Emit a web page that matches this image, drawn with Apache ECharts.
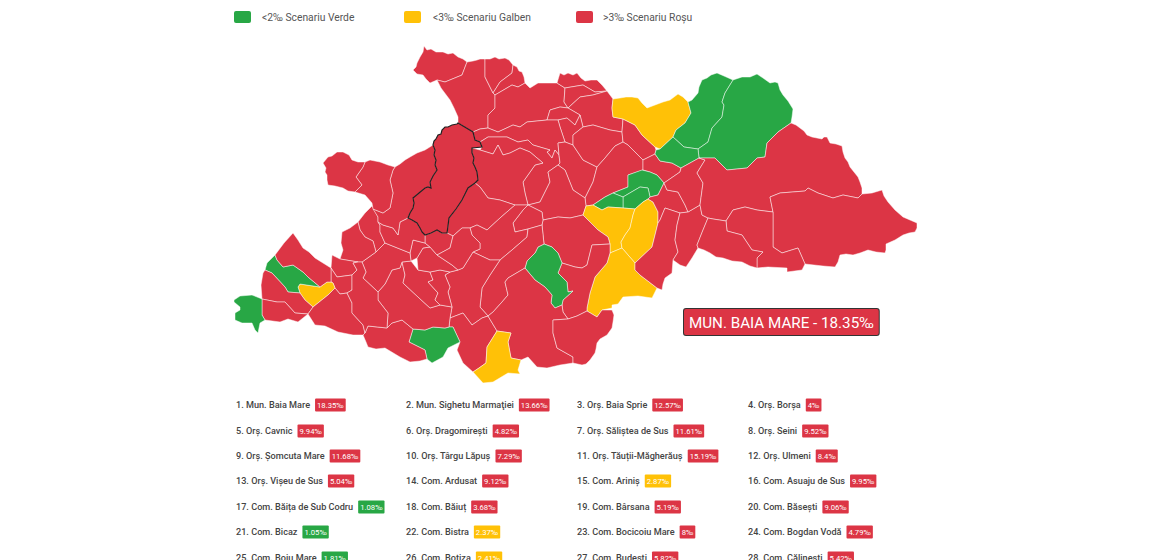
<!DOCTYPE html>
<html>
<head>
<meta charset="utf-8">
<title>Maramureș</title>
<script src="https://cdn.jsdelivr.net/npm/echarts@6/dist/echarts.min.js"></script>
<style>
  html, body { margin: 0; padding: 0; background: #fff; overflow: hidden; }
  #chart { width: 1160px; height: 560px; }
</style>
</head>
<body>
<div id="chart"></div>
<script>
'use strict';

// legend
const scenarioLabels = ['<2‰ Scenariu Verde', '<3‰ Scenariu Galben', '>3‰ Scenariu Roșu'];
const scenarioColors = ['#28a745', '#ffc107', '#dc3545'];

// ranked list under the map
const listNames = [
  'Mun. Baia Mare', 'Mun. Sighetu Marmaţiei', 'Orș. Baia Sprie', 'Orș. Borșa',
  'Orș. Cavnic', 'Orș. Dragomirești', 'Orș. Săliștea de Sus', 'Orș. Seini',
  'Orș. Șomcuta Mare', 'Orș. Târgu Lăpuș', 'Orș. Tăuții-Măgherăuș', 'Orș. Ulmeni',
  'Orș. Vișeu de Sus', 'Com. Ardusat', 'Com. Ariniș', 'Com. Asuaju de Sus',
  'Com. Băița de Sub Codru', 'Com. Băiuț', 'Com. Bârsana', 'Com. Băsești',
  'Com. Bicaz', 'Com. Bistra', 'Com. Bocicoiu Mare', 'Com. Bogdan Vodă',
  'Com. Boiu Mare', 'Com. Botiza', 'Com. Budești', 'Com. Călinești'
];
const listValues = [
  18.35, 13.66, 12.57, 4,
  9.94, 4.82, 11.61, 9.52,
  11.68, 7.29, 15.19, 8.4,
  5.04, 9.12, 2.87, 9.95,
  1.08, 3.68, 5.19, 9.06,
  1.05, 2.37, 8, 4.79,
  1.81, 2.41, 5.82, 5.42
];

// map units, black outlined one (the hovered unit) last so it paints on top
const regionNames = [
  't4', 't3', 't1', 't2', 't5', 'n1', 'q1', 'q2', 'q3', 't9',
  't6', 't7', 't8', 'w16', 'p2', 'p1', 'p4', 'p5', 'p7', 'rz',
  'yTop', 'g1', 'g2', 'g3', 'gTop', 'gLow', 'gLeft', 'yA', 'yB', 'yC',
  'rd', 'rc', 'rb', 'ra', 'e1', 'e2', 'e3', 'e4', 'rt', 'rg',
  'gc', 'r2', 'r1', 'r3', 'r4', 'r5', 'r6', 'rs', 'ySouth', 'gSouth',
  'wh', 'w9', 'w10', 'w11', 'w12', 'w13', 'w14', 'w15', 'w7', 'w6',
  'w5', 'w1', 'w2', 'w3', 'w4', 'we', 'wf', 'yWest', 'gStrip', 'wa',
  'wb', 'wc', 'gWest', 'wd', 'wg', 'baiaMare'
];
// only the colour band can be read for most units, so these are band estimates
const regionValues = [
  6, 6, 6, 6, 6, 6, 6, 6, 6, 6,
  6, 6, 6, 6, 6, 6, 6, 6, 6, 6,
  2.5, 1.5, 1.5, 1.5, 1.5, 1.5, 1.5, 2.5, 2.5, 2.5,
  6, 6, 6, 6, 6, 6, 6, 6, 6, 6,
  1.5, 6, 6, 6, 6, 6, 6, 6, 2.5, 1.5,
  6, 6, 6, 6, 6, 6, 6, 6, 6, 6,
  6, 6, 6, 6, 6, 6, 6, 2.5, 1.5, 6,
  6, 6, 1.5, 6, 6, 18.35
];

// traced unit outlines, in page pixels
const outlines = {
  t4: '424,46 427,50 431,49 436,52 443,52 448,54 453,53 458,57 463,59 467,62 462,75 445,82 437,80 430,83 426,79 423,75 417,74 413,70 416,67 417,63 420,57 423,52',
  t3: '437,80 445,82 462,75 467,62 473,61 477,60 480,59 485,59 485,77 493,93 495,95 495,108 488,115 488,128 480,129 473,132 458,123 458,117 454,108 450,100 441,88',
  t1: '485,59 490,59 495,57 499,59 505,58 509,60 513,65 512,73 500,82 493,93 485,77',
  t2: '513,65 517,67 519,71 522,72 524,77 525,83 518,87 512,85 495,95 493,93 500,82 512,73',
  t5: '495,95 512,85 518,87 525,83 530,88 538,83 557,83 565,88 564,102 568,108 560,107 550,110 547,120 527,122 520,127 513,125 498,132 488,128 488,115 495,108',
  n1: '557,83 560,73 564,75 568,73 573,75 577,73 581,78 585,81 591,80 597,80 602,85 607,91 595,92 583,85 565,88',
  q1: '565,88 583,85 595,92 607,91 593,95 580,97 568,108 564,102',
  q2: '568,108 580,97 593,95 607,91 613,99 612,108 613,117 623,119 622,132 610,130 593,125 583,127 580,115',
  q3: '547,120 550,110 560,107 568,108 580,115 575,125 567,118 558,120',
  t9: '558,120 567,118 575,125 580,115 583,127 573,135 573,145 565,142 560,127',
  t6: '473,132 480,129 488,128 498,132 513,125 520,127 527,122 547,120 558,120 560,127 565,142 558,143 559,155 555,150 552,158 547,152 550,150 533,145 528,140 518,142 507,137 488,137 480,142 475,140',
  t7: '480,142 488,137 507,137 518,142 528,140 533,145 550,150 547,152 552,158 555,150 559,155 560,163 558,165 548,172 550,182 540,202 528,205 525,193 523,182 535,165 543,163 530,152 520,148 510,153 503,155 498,145 493,154 480,150 482,147',
  t8: '472,148 480,150 493,154 498,145 503,155 510,153 520,148 530,152 543,163 535,165 523,182 525,193 528,205 515,205 500,200 488,198 480,187 475,183 478,180 477,172 475,167 473,163 474,158 472,153',
  w16: '475,183 480,187 488,198 500,200 515,205 500,218 487,230 477,225 470,228 462,228 453,236 447,233 448,226 449,218 456,209 462,200 465,194 468,188',
  p2: '560,163 559,155 558,143 565,142 573,145 583,160 597,167 593,182 585,198 573,190 565,170 558,165',
  p1: '573,145 573,135 583,127 593,125 610,130 622,132 623,142 615,146 605,158 597,167 583,160',
  p4: '623,119 635,125 642,135 655,147 656,150 655,154 643,160 628,145 623,142 622,132',
  p5: '643,160 643,170 628,175 628,187 613,193 605,197 593,205 586,206 585,198 593,182 597,167 605,158 615,146 623,142 628,145',
  p7: '643,160 655,154 660,161 672,163 681,168 680,172 664,183 657,175 650,172 643,170',
  rz: '558,165 565,170 573,190 585,198 586,206 583,215 570,218 558,217 543,220 542,212 528,205 540,202 550,182 548,172',
  yTop: '613,99 620,98 626,97 632,97 638,98 642,103 647,108 655,105 663,102 670,100 678,94 683,97 688,102 691,113 685,123 676,130 673,137 660,149 655,147 642,135 635,125 623,119 613,117 612,108',
  g1: '688,102 692,100 698,93 699,87 702,80 707,78 711,75 717,73 724,76 733,80 725,93 722,102 724,105 722,117 712,128 708,142 698,149 684,147 673,137 676,130 685,123 691,113',
  g2: '733,80 742,77 750,77 757,74 763,78 770,83 775,82 778,83 780,90 783,95 788,101 793,109 792,117 791,123 778,132 767,143 765,157 757,158 747,168 727,170 715,158 699,158 698,149 708,142 712,128 722,117 724,105 722,102 725,93',
  g3: '673,137 684,147 698,149 699,158 681,168 672,163 660,161 655,154 656,150 660,149',
  gTop: '613,193 628,187 628,175 642,170 650,172 657,175 664,183 658,195 650,197 648,188 640,187 623,197',
  gLow: '623,197 640,187 648,188 650,197 648,199 643,202 635,209 623,208',
  gLeft: '593,205 605,197 613,193 623,197 623,208 608,207 602,210',
  yA: '583,215 586,206 593,205 602,210 608,207 623,208 635,209 633,215 630,228 625,235 621,242 622,248 610,253 610,244 608,237 598,230 590,222',
  yB: '635,209 643,202 648,199 653,202 658,212 658,223 652,247 635,263 622,248 621,242 625,235 630,228 633,215',
  yC: '610,253 622,248 635,263 635,270 640,275 657,288 652,298 638,296 623,297 618,304 612,305 612,308 602,310 597,317 587,311 587,308 590,293 595,277 607,263',
  rd: '664,183 667,190 678,192 685,205 688,212 680,213 665,208 660,220 658,223 658,212 653,202 648,199 650,197 658,195',
  rc: '680,213 665,208 660,220 658,223 652,247 635,263 635,270 640,275 657,288 662,290 663,284 665,278 672,273 673,260 678,252 675,240 677,225',
  rb: '700,205 702,215 708,218 703,230 697,245 698,248 692,258 686,267 680,265 673,260 678,252 675,240 677,225 680,213 688,212',
  ra: '705,160 697,173 703,183 700,205 688,212 685,205 678,192 667,190 664,183 680,172 681,168 699,158',
  e1: '705,160 699,158 715,158 727,170 747,168 757,158 765,157 767,143 778,132 791,123 796,125 800,128 804,131 807,135 812,137 817,138 822,139 824,137 827,137 830,143 836,144 842,146 843,152 845,158 848,162 850,167 854,172 858,177 860,182 862,188 862,194 858,198 843,195 833,198 818,193 808,188 805,191 780,193 770,197 773,212 757,210 745,207 733,210 726,221 713,219 708,218 702,215 700,205 703,183 697,173',
  e2: '770,197 780,193 805,191 808,188 818,193 833,198 843,195 858,198 862,194 872,193 882,190 884,196 888,202 895,210 903,217 910,220 917,223 917,228 915,232 909,233 903,235 895,240 886,244 886,250 885,253 876,252 868,250 860,253 853,255 846,254 840,255 838,262 835,267 823,266 805,264 798,248 782,253 773,247 773,212',
  e3: '726,221 727,231 742,235 752,250 763,252 757,258 757,268 768,267 787,268 787,272 802,270 805,264 798,248 782,253 773,247 773,212 757,210 745,207 733,210',
  e4: '708,218 713,219 726,221 727,231 742,235 752,250 763,252 757,258 757,268 750,266 742,262 732,261 723,258 716,257 710,253 704,250 698,248 697,245 703,230',
  rt: '543,220 558,217 570,218 583,215 590,222 598,230 608,237 610,244 592,245 587,265 582,268 575,267 562,263 558,253 552,247 544,244 542,225',
  rg: '562,263 575,267 582,268 587,265 592,245 610,244 610,253 607,263 595,277 590,293 587,308 587,311 577,316 568,319 563,312 562,305 563,300 573,291 568,292 567,282 558,273',
  gc: '538,247 544,244 552,247 558,253 562,263 558,273 567,282 568,292 573,291 563,300 562,305 555,308 551,303 552,295 545,287 535,280 525,268 527,261 535,253',
  r2: '528,205 542,212 543,220 542,225 528,229 515,232 513,223 523,210',
  r1: '487,230 500,218 515,205 528,205 523,210 513,223 515,232 528,229 527,237 512,250 500,260 490,260 473,252 480,249 480,243 472,235 470,228 477,225',
  r3: '527,237 528,229 542,225 544,244 538,247 535,253 527,261 525,268 508,278 505,282 508,295 502,302 493,312 488,316 480,307 482,288 490,275 500,260 512,250',
  r4: '458,270 463,268 473,252 490,260 500,260 490,275 482,288 480,307 488,316 482,318 472,325 463,313 450,318 452,307 448,292 450,287 445,275 450,272',
  r5: '449,327 450,318 463,313 472,325 482,318 488,316 497,331 487,347 486,363 479,368 473,372 463,363 457,350 460,342 453,327',
  r6: '497,331 511,333 508,342 511,358 521,360 528,357 537,367 547,368 560,365 573,363 573,357 557,348 553,333 553,320 568,319 563,312 562,305 555,308 551,303 552,295 545,287 535,280 525,268 508,278 505,282 508,295 502,302 493,312 488,316',
  rs: '553,320 568,319 577,316 587,311 597,317 602,310 612,310 614,315 613,322 612,328 607,335 600,339 597,343 596,349 595,353 590,360 586,364 582,365 573,363 573,357 557,348 553,333',
  ySouth: '497,331 511,333 508,342 511,358 521,360 518,370 520,374 508,373 493,382 483,383 473,372 479,368 486,363 487,347',
  gSouth: '413,329 425,330 433,327 445,328 449,327 453,327 460,342 448,348 443,357 432,363 427,359 425,350 409,342',
  wh: '368,326 387,328 392,323 402,320 413,329 409,342 425,350 427,359 420,361 410,362 400,357 385,348 376,349 368,347 366,342 363,335 365,333',
  w9: '378,292 385,284 392,270 400,268 402,262 405,275 403,283 418,297 430,308 440,305 452,307 450,318 449,327 445,328 433,327 425,330 413,329 402,320 392,323 387,328 388,313 378,300',
  w10: '402,262 411,261 418,270 430,272 433,280 428,282 438,293 435,300 440,305 430,308 418,297 403,283 405,275',
  w11: '430,272 440,270 450,272 445,275 450,287 448,292 452,307 440,305 435,300 438,293 428,282 433,280',
  w12: '418,270 417,258 423,248 430,247 437,255 452,265 458,270 450,272 440,270 430,272',
  w13: '413,240 425,243 430,247 423,248 417,258 411,261 410,253',
  w14: '425,235 431,233 437,230 442,233 447,233 453,236 450,248 437,255 430,247 425,243',
  w15: '453,236 462,228 470,228 472,235 480,243 480,249 473,252 463,268 458,270 452,265 437,255 450,248',
  w7: '362,262 376,252 385,243 410,253 411,261 402,262 400,268 392,270 385,284 378,292 363,278 366,272',
  w6: '358,222 365,213 372,206 378,217 378,222 380,225 380,232 385,243 376,252 373,241 365,237 360,230',
  w5: '378,222 383,225 393,228 398,235 400,222 408,218 412,220 417,223 420,228 422,232 425,235 425,243 413,240 410,253 385,243 380,232 380,225',
  w1: '433,145 425,150 417,153 410,157 405,160 400,164 395,167 393,170 390,180 393,193 390,208 383,213 373,209 378,217 378,222 383,225 393,228 398,235 400,222 408,218 410,213 413,208 414,203 413,198 419,193 425,188 428,187 431,188 430,182 433,176 437,170 435,165 436,160 434,155 435,150',
  w2: '393,170 395,167 388,165 380,162 370,160 365,162 363,167 356,177 362,185 355,192 365,195 372,203 373,209 383,213 390,208 393,193 390,180',
  w3: '365,162 358,162 352,160 349,155 343,152 337,152 332,156 328,157 323,163 326,168 325,172 327,175 327,180 328,185 335,186 343,188 348,191 355,192 362,185 356,177 363,167',
  w4: '358,222 360,230 365,237 373,241 376,252 362,262 358,262 340,259 343,250 341,243 342,232 350,228',
  we: '332,255 340,259 358,262 353,263 357,270 352,275 337,277 331,268',
  wf: '331,268 337,277 352,275 352,290 347,293 340,294 335,288 333,283 331,282',
  yWest: '298,287 300,284 320,287 327,282 331,282 333,283 335,288 328,295 313,307 305,300 300,293',
  gStrip: '275,255 267,263 265,270 272,273 285,287 288,292 300,293 298,287 300,284 320,287 308,277 303,272 293,265 283,267 277,260',
  wa: '275,255 284,243 293,233 298,240 303,248 309,252 315,258 323,263 331,268 331,282 327,282 320,287 308,277 303,272 293,265 283,267 277,260',
  wb: '265,270 272,273 285,287 288,292 300,293 305,300 313,307 308,314 295,313 285,302 277,302 262,299 261,285 263,273',
  wc: '262,299 277,302 285,302 295,313 308,314 298,322 288,319 280,322 265,320 262,315',
  gWest: '234,300 240,296 252,295 262,299 262,315 265,320 260,323 258,333 255,330 252,323 242,323 235,320 235,313 240,310 240,307 234,302',
  wd: '313,307 328,295 335,288 340,294 347,293 352,303 352,313 363,325 365,333 363,335 353,335 338,332 325,326 315,325 308,314',
  wg: '353,263 358,262 362,262 366,272 363,278 378,292 378,300 388,313 387,328 368,326 365,333 363,325 352,313 352,303 347,293 352,290 352,275 357,270',
  baiaMare: '458,123 473,132 475,140 480,142 482,147 472,148 472,153 474,158 473,163 475,167 477,172 478,180 475,183 468,188 465,194 462,200 456,209 449,218 448,226 447,233 442,233 437,230 431,233 425,235 422,232 420,228 417,223 412,220 408,218 410,213 413,208 414,203 413,198 419,193 425,188 428,187 431,188 430,182 433,176 437,170 435,165 436,160 434,155 435,150 433,145 434,141 436,139 438,135 441,134 442,130 445,127 448,127 452,125 457,124'
};

const FONT = 'Roboto, sans-serif';

function scenarioOf(v) {
  return v < 2 ? 0 : v < 3 ? 1 : 2;
}

function toGeoJson() {
  return {
    type: 'FeatureCollection',
    features: regionNames.map(name => ({
      type: 'Feature',
      properties: { name: name },
      geometry: {
        type: 'Polygon',
        coordinates: [outlines[name].split(' ').map(p => p.split(',').map(Number))]
      }
    }))
  };
}

function legendGraphics() {
  const swatchX = [234, 404, 576];
  const textX = [262, 433, 603];
  const out = [];
  scenarioLabels.forEach((label, i) => {
    out.push({
      type: 'rect',
      shape: { x: swatchX[i], y: 11, width: 17, height: 12, r: 2 },
      style: { fill: scenarioColors[i] }
    });
    out.push({
      type: 'text',
      style: {
        x: textX[i], y: 17.5, text: label, verticalAlign: 'middle',
        fontFamily: FONT, fontSize: 10.3, fill: '#555'
      }
    });
  });
  return out;
}

function listGraphics() {
  const colX = [236, 406, 577, 748];
  const rowY = [405, 431, 456, 481, 507, 532, 558];
  const badge = c => ({
    fill: '#fff', backgroundColor: c, fontFamily: FONT, fontSize: 7.7,
    padding: [3, 2, 2, 2], borderRadius: 1, lineHeight: 9
  });
  return listNames.map((name, i) => ({
    type: 'text',
    style: {
      x: colX[i % 4],
      y: rowY[Math.floor(i / 4)],
      verticalAlign: 'middle',
      text: `{n|${i + 1}. ${name}}{b${scenarioOf(listValues[i])}|${listValues[i]}‰}`,
      rich: {
        n: { fill: '#444', fontFamily: FONT, fontSize: 9.15, fontWeight: 500, padding: [0, 5, 0, 0], lineHeight: 12 },
        b0: badge(scenarioColors[0]),
        b1: badge(scenarioColors[1]),
        b2: badge(scenarioColors[2])
      }
    }
  }));
}

function hoverBox() {
  return {
    type: 'text',
    style: {
      x: 684, y: 309,
      text: `${listNames[0].toUpperCase()} - ${listValues[0]}‰`,
      fill: '#fff',
      fontFamily: FONT, fontSize: 15.2, fontWeight: 400,
      backgroundColor: scenarioColors[2],
      borderColor: '#333', borderWidth: 1, borderRadius: 2,
      padding: [5, 5, 4, 5], lineHeight: 17
    }
  };
}

echarts.registerMap('maramures', toGeoJson());

const chart = echarts.init(document.getElementById('chart'), null, { renderer: 'svg' });
chart.setOption({
  animation: false,
  visualMap: {
    show: false,
    type: 'piecewise',
    seriesIndex: 0,
    pieces: [
      { lt: 2, color: scenarioColors[0] },
      { gte: 2, lt: 3, color: scenarioColors[1] },
      { gte: 3, color: scenarioColors[2] }
    ]
  },
  series: [{
    type: 'map',
    map: 'maramures',
    silent: true,
    roam: false,
    projection: { project: p => p, unproject: p => p },
    boundingCoords: [[0, 0], [1160, 560]],
    layoutCenter: [580, 280],
    layoutSize: 1160,
    label: { show: false },
    itemStyle: { borderColor: 'rgba(255,255,255,0.6)', borderWidth: 0.8 },
    data: regionNames.map((name, i) => {
      const item = { name: name, value: regionValues[i] };
      if (name === 'baiaMare') item.itemStyle = { borderColor: '#222', borderWidth: 1.2 };
      return item;
    })
  }],
  graphic: legendGraphics().concat(listGraphics(), [hoverBox()])
});
</script>
</body>
</html>
